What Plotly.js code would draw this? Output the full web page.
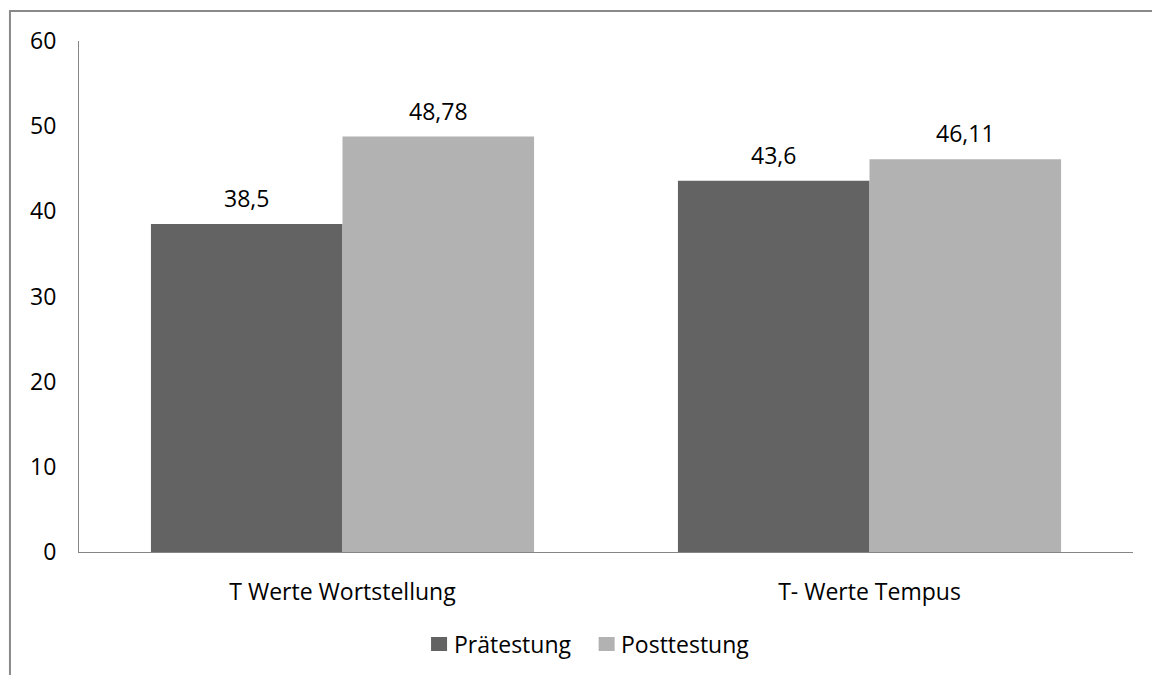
<!DOCTYPE html>
<html>
<head>
<meta charset="utf-8">
<script src="https://cdn.plot.ly/plotly-3.0.1.min.js"></script>
<style>
  html, body { margin: 0; padding: 0; background: #ffffff; }
  #chart { width: 1152px; height: 675px; }
</style>
</head>
<body>
<div id="chart"></div>
<script>
// T-Werte vor und nach der Testung
const categories = ['T Werte Wortstellung', 'T- Werte Tempus'];
const seriesNames = ['Prätestung', 'Posttestung'];
const praetestung = [38.5, 43.6];
const posttestung = [48.78, 46.11];
const seriesValues = [praetestung, posttestung];
const seriesColors = ['#636363', '#b2b2b2'];
const yTickValues = [0, 10, 20, 30, 40, 50, 60];

const FONT = '"Open Sans", "DejaVu Sans", sans-serif';
const FONT_SIZE = 23;
const bargap = 0.273;

const traces = seriesValues.map((vals, s) => ({
  type: 'bar',
  name: seriesNames[s],
  x: categories,
  y: vals,
  marker: { color: seriesColors[s], line: { width: 0 } },
  hoverinfo: 'x+y+name'
}));

// value labels centred over each bar of a group
const nSeries = seriesValues.length;
const groupWidth = 1 - bargap;
const barWidth = groupWidth / nSeries;
const fmt = v => String(v).replace('.', ',');
const annotations = [];
seriesValues.forEach((vals, s) => {
  vals.forEach((v, i) => {
    annotations.push({
      xref: 'x', yref: 'y',
      x: i - groupWidth / 2 + barWidth * (s + 0.5),
      y: v,
      text: fmt(v),
      showarrow: false,
      yanchor: 'bottom',
      yshift: 8,
      font: { family: FONT, size: FONT_SIZE, color: '#000000' }
    });
  });
});

// legend: swatch + name, laid out below the axis
const shapes = [];
const legendY = -0.18;
const legendX = [0.334, 0.493];
seriesNames.forEach((name, s) => {
  shapes.push({
    type: 'rect', xref: 'paper', yref: 'paper',
    x0: legendX[s], x1: legendX[s] + 0.0152,
    y0: legendY - 0.0137, y1: legendY + 0.0137,
    fillcolor: seriesColors[s], line: { width: 0 }
  });
  annotations.push({
    xref: 'paper', yref: 'paper',
    x: legendX[s] + 0.0195, y: legendY,
    xanchor: 'left', yanchor: 'middle',
    text: name, showarrow: false,
    font: { family: FONT, size: FONT_SIZE, color: '#000000' }
  });
});

// outer chart frame
shapes.push({
  type: 'rect', xref: 'paper', yref: 'paper',
  x0: -0.0655, x1: 1.2, y0: -0.5, y1: 1.0587,
  line: { color: '#8a8a8a', width: 2 }, fillcolor: 'rgba(0,0,0,0)'
});

const layout = {
  width: 1152,
  height: 675,
  margin: { l: 79, r: 19, t: 41, b: 123 },
  paper_bgcolor: '#ffffff',
  plot_bgcolor: '#ffffff',
  barmode: 'group',
  bargap: bargap,
  bargroupgap: 0,
  showlegend: false,
  font: { family: FONT, size: FONT_SIZE, color: '#000000' },
  xaxis: {
    type: 'category',
    showline: true,
    linecolor: '#868686',
    linewidth: 1,
    ticks: '',
    showgrid: false,
    zeroline: false,
    ticklabelstandoff: 19,
    tickfont: { family: FONT, size: FONT_SIZE, color: '#000000' }
  },
  yaxis: {
    range: [0, 60],
    tickvals: yTickValues,
    ticktext: yTickValues.map(String),
    showline: true,
    linecolor: '#868686',
    linewidth: 1,
    ticks: '',
    showgrid: false,
    zeroline: false,
    ticklabelstandoff: 17,
    tickfont: { family: FONT, size: FONT_SIZE, color: '#000000' }
  },
  annotations: annotations,
  shapes: shapes
};

Plotly.newPlot('chart', traces, layout, { staticPlot: true, displayModeBar: false });
</script>
</body>
</html>
